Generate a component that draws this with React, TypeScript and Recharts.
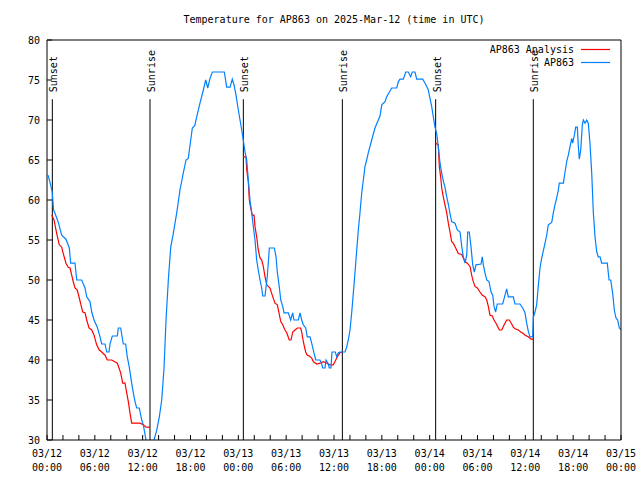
import { LineChart, Line, XAxis, YAxis, ReferenceLine, Legend } from 'recharts';

const FONT = '"DejaVu Sans Mono", "Liberation Mono", monospace';

// hours since 03/12 00:00 UTC
const stationTimes = [
  0.13, 0.38, 0.66, 0.82, 1.13, 1.42, 1.84, 2.38, 2.8, 2.97, 3.51, 3.73, 4.35, 4.77, 4.98, 5.39, 5.61, 5.9,
  6.31, 6.65, 6.86, 7.28, 7.49, 7.78, 7.9, 8.19, 8.82, 8.94, 9.24, 9.57, 9.87, 10.07, 10.32, 10.62, 10.83,
  11.04, 11.25, 11.58, 11.88, 12.08, 12.42, 12.92, 13.42, 13.76, 14.09, 14.39, 14.68, 14.93, 15.22, 15.52,
  15.84, 16.27, 16.68, 17.1, 17.44, 17.72, 18.03, 18.23, 18.53, 18.78, 19.19, 19.61, 19.91, 20.16, 20.45,
  20.74, 22.24, 22.54, 22.96, 23.24, 23.46, 23.71, 24.0, 24.21, 24.42, 24.62, 24.84, 25.05, 25.25, 25.46,
  25.68, 25.88, 26.09, 26.3, 26.5, 26.72, 26.93, 27.06, 27.35, 27.47, 27.63, 27.89, 28.51, 28.73, 28.89,
  29.14, 29.32, 29.57, 29.73, 30.27, 30.57, 30.82, 30.98, 31.52, 31.74, 31.95, 32.15, 32.45, 32.65, 32.99,
  33.2, 33.49, 33.71, 34.24, 34.46, 34.58, 34.87, 35.0, 35.29, 35.41, 35.62, 35.75, 36.16, 36.34, 36.54,
  36.75, 37.38, 37.59, 37.79, 38.01, 38.22, 38.42, 38.63, 38.85, 39.05, 39.26, 39.48, 39.68, 39.89, 40.1,
  40.3, 40.73, 41.14, 41.77, 41.99, 42.4, 42.61, 43.24, 43.87, 44.07, 44.28, 44.69, 45.0, 45.32, 45.62,
  45.82, 46.16, 46.37, 47.13, 47.42, 47.63, 47.83, 48.04, 48.25, 48.46, 48.67, 48.88, 49.08, 49.3, 49.51,
  49.71, 49.92, 50.14, 50.34, 50.55, 50.76, 51.18, 51.47, 51.81, 52.02, 52.22, 52.43, 52.65, 52.77, 52.97,
  53.18, 53.4, 53.6, 53.81, 54.44, 54.6, 54.73, 54.94, 55.16, 55.44, 55.7, 55.91, 56.07, 56.28, 56.48,
  57.16, 57.45, 57.66, 57.86, 58.49, 58.7, 59.33, 59.67, 59.96, 60.17, 60.37, 60.58, 60.92, 61.0, 61.21,
  61.42, 61.62, 61.84, 62.05, 62.25, 62.47, 62.68, 62.88, 63.31, 63.51, 63.72, 63.94, 64.14, 64.26, 64.77,
  64.98, 65.19, 65.39, 65.61, 65.82, 65.94, 66.15, 66.32, 66.52, 66.65, 66.77, 66.95, 67.15, 67.28, 67.49,
  67.7, 67.9, 68.11, 68.33, 68.53, 68.74, 68.96, 69.15, 69.37, 69.58, 70.28, 70.5, 70.71, 70.96, 71.16,
  71.37, 71.58, 71.79, 72.0,
];
const stationTemps = [
  63.1, 62.2, 61.0, 58.8, 58.0, 57.2, 55.6, 55.1, 54.0, 52.1, 52.1, 50.0, 50.0, 49.0, 47.9, 47.3, 46.0, 45.0,
  44.1, 42.9, 42.0, 42.0, 41.0, 41.0, 42.0, 43.0, 43.0, 44.0, 44.0, 42.0, 42.0, 40.4, 39.1, 37.1, 35.9,
  34.8, 34.0, 34.0, 32.5, 31.9, 30.0, 28.5, 30.0, 31.2, 32.9, 35.0, 39.0, 45.0, 50.0, 54.1,
  55.8, 58.4, 61.25, 63.4, 65.0, 65.2, 67.5, 69.0, 69.3, 70.4, 72.1, 73.75, 75.0, 74.0, 75.2,
  76.0, 76.0, 74.1, 74.1, 75.1, 74.4, 73.1, 71.25, 70.0, 68.75, 67.5, 66.0, 65.0, 62.5, 60.0,
  58.4, 56.7, 55.0, 52.5, 51.25, 50.0, 49.0, 48.0, 48.0, 49.1, 50.4, 54.0, 54.0, 52.9, 51.0,
  49.1, 47.5, 46.7, 45.9, 45.9, 45.0, 45.9, 45.0, 45.0, 45.9, 45.0, 44.4, 44.0, 42.9, 42.9,
  42.1, 40.9, 40.0, 40.0, 39.5, 39.0, 39.0, 40.0, 39.5, 39.0, 39.0, 41.0, 41.0, 40.4, 40.9,
  41.0, 41.0, 41.6, 42.5, 43.75, 45.9, 48.3, 50.9, 53.75, 56.25, 58.4, 60.9, 62.5, 64.2, 65.0,
  65.9, 67.5, 69.0, 70.5, 71.9, 72.3, 72.9, 74.0, 74.0, 74.8, 75.1, 75.1, 76.0, 76.0, 75.4,
  76.0, 76.0, 75.1, 75.1, 74.6, 74.2, 73.75, 72.7, 71.7, 70.4, 69.1, 68.3, 66.7, 64.6, 63.4,
  62.4, 61.6, 60.4, 59.5, 58.3, 57.3, 57.1, 56.25, 56.0, 54.2, 52.9, 52.1, 53.1, 56.0, 56.0,
  54.2, 51.9, 51.0, 51.9, 52.0, 52.9, 51.9, 50.9, 50.0, 49.8, 48.5, 48.1, 46.7, 46.0, 47.0,
  47.0, 48.1, 48.9, 47.9, 47.9, 47.0, 47.0, 46.5, 45.9, 44.6, 43.6, 42.9, 42.9, 45.3, 46.0,
  46.9, 49.2, 51.5, 52.75, 53.6, 54.6, 55.6, 56.9, 57.2, 58.4, 59.4, 60.3, 61.25, 62.1, 62.1,
  63.5, 64.8, 65.6, 66.7, 67.7, 67.1, 68.1, 69.1, 69.1, 66.7, 65.1, 66.25, 69.4, 70.0, 69.6,
  70.0, 69.6, 67.1, 63.3, 58.4, 55.4, 53.5, 52.9, 52.9, 52.1, 52.1, 50.0, 50.0, 48.3, 46.25,
  45.25, 45.0, 44.0, 43.8,
];

const night1Times = [
  0.59, 0.88, 1.22, 1.54, 1.84, 2.04, 2.38, 2.67, 2.89, 3.1, 3.3, 3.51, 3.8, 4.05, 4.26, 4.48, 4.77, 4.98,
  5.27, 5.61, 5.9, 6.23, 6.56, 6.86, 7.28, 7.56, 8.12, 8.82, 9.03, 9.24, 9.5, 9.78, 10.0, 10.2, 10.41,
  10.62, 11.67, 12.08, 12.42, 12.92,
];
const night1Temps = [
  58.1, 57.5, 55.8, 54.4, 54.1, 53.3, 52.1, 51.6, 51.5, 50.6, 49.75, 49.0, 48.75, 47.75, 46.9, 46.0, 45.9, 45.0,
  44.0, 43.75, 43.1, 41.9, 41.25, 41.0, 40.6, 40.0, 40.0, 39.6, 39.0, 38.4, 37.1, 37.1, 35.9, 34.8, 33.4,
  32.1, 32.1, 31.9, 31.6, 31.6,
];
const night2Times = [
  24.62, 24.96, 25.05, 25.25, 25.38, 25.55, 25.75, 25.97, 26.09, 26.3, 26.5, 26.72, 26.93, 27.13, 27.35,
  27.56, 27.76, 27.97, 28.19, 28.39, 28.6, 28.89, 29.1, 29.32, 29.57, 29.85, 30.07, 30.39, 30.61, 30.82,
  31.11, 31.4, 31.82, 31.95, 32.07, 32.24, 32.45, 32.65, 32.9, 33.2, 33.4, 33.83, 34.24, 34.66, 35.09,
  35.5, 35.91, 36.13, 36.34, 36.54, 36.75, 37.04,
];
const night2Temps = [
  65.4, 65.4, 63.8, 62.3, 60.0, 59.0, 58.1, 58.1, 56.7, 55.4, 53.75, 52.75, 52.5, 51.7, 50.4,
  49.4, 49.2, 49.0, 48.3, 47.7, 47.1, 46.9, 45.9, 44.8, 44.4, 43.75, 43.4, 42.5, 42.5, 43.5,
  43.75, 44.0, 44.0, 43.5, 42.75, 41.9, 41.0, 40.6, 40.5, 40.25, 39.8, 39.5, 39.6, 39.8, 39.6,
  39.4, 39.4, 39.8, 40.25, 40.6, 40.9, 41.0,
];
const night3Times = [
  48.76, 49.08, 49.21, 49.38, 49.51, 49.71, 49.92, 50.14, 50.34, 50.55, 50.76, 50.96, 51.39, 51.59, 52.02,
  52.43, 52.72, 53.06, 53.27, 53.47, 53.69, 53.98, 54.31, 54.6, 54.94, 55.16, 55.36, 55.57, 55.86, 56.07,
  56.32, 56.53, 56.74, 57.04, 57.24, 57.45, 57.66, 57.99, 58.29, 58.49, 58.7, 59.12, 59.42, 59.75, 59.96,
  60.37, 60.71, 61.0,
];
const night3Temps = [
  67.1, 66.9, 64.2, 62.9, 61.5, 60.4, 59.4, 58.4, 57.1, 56.0, 54.8, 54.6, 53.75, 53.3, 53.2,
  52.3, 52.1, 51.7, 50.6, 49.8, 49.2, 49.0, 48.5, 48.1, 47.9, 47.5, 46.7, 45.6, 45.5, 45.0,
  44.6, 44.2, 43.75, 43.75, 44.2, 44.6, 45.0, 45.0, 44.5, 44.1, 43.9, 43.75, 43.5, 43.3, 43.1,
  42.9, 42.6, 42.6,
];

const eventHours = [0.67, 12.92, 24.63, 37.05, 48.75, 61.0];
const eventLabels = ['Sunset', 'Sunrise', 'Sunset', 'Sunrise', 'Sunset', 'Sunrise'];

const xTickHours = [
  0, 2, 4, 6, 8, 10, 12, 14, 16, 18, 20, 22, 24, 26, 28, 30, 32, 34, 36, 38, 40, 42, 44, 46, 48, 50, 52, 54,
  56, 58, 60, 62, 64, 66, 68, 70, 72,
];
const xLabelHours = [0, 6, 12, 18, 24, 30, 36, 42, 48, 54, 60, 66, 72];
const xLabelDates = ['03/12', '03/12', '03/12', '03/12', '03/13', '03/13', '03/13', '03/13', '03/14', '03/14', '03/14', '03/14', '03/15'];
const xLabelTimes = ['00:00', '06:00', '12:00', '18:00', '00:00', '06:00', '12:00', '18:00', '00:00', '06:00', '12:00', '18:00', '00:00'];
const yTicks = [30, 35, 40, 45, 50, 55, 60, 65, 70, 75, 80];

const stationData = stationTimes.map((h, i) => ({ h, temp: stationTemps[i] }));
const toRows = (times: number[], temps: number[]) => times.map((h, i) => ({ h, temp: temps[i] }));
const analysisData = [
  ...toRows(night1Times, night1Temps),
  { h: 18, temp: null },
  ...toRows(night2Times, night2Temps),
  { h: 42, temp: null },
  ...toRows(night3Times, night3Temps),
];

const BottomTick = ({ x, y, payload }: any) => {
  const i = xLabelHours.indexOf(payload.value);
  return (
    <g>
      <line x1={x} x2={x} y1={y} y2={y - 5} stroke="#000" />
      {i >= 0 && (
        <text fontFamily={FONT} fontSize={10} fill="#000" textAnchor="middle">
          <tspan x={x} y={y + 17}>{xLabelDates[i]}</tspan>
          <tspan x={x} y={y + 30.5}>{xLabelTimes[i]}</tspan>
        </text>
      )}
    </g>
  );
};

const TopTick = ({ x, y }: any) => <line x1={x} x2={x} y1={y} y2={y + 5} stroke="#000" />;

const LeftTick = ({ x, y, payload }: any) => (
  <g>
    <line x1={x} x2={x + 5} y1={y} y2={y} stroke="#000" />
    <text x={x - 7} y={y + 4} textAnchor="end" fontFamily={FONT} fontSize={10} fill="#000">
      {payload.value}
    </text>
  </g>
);

const RightTick = ({ x, y }: any) => <line x1={x - 5} x2={x} y1={y} y2={y} stroke="#000" />;

const EventLabel = ({ viewBox, text }: any) => {
  const tx = viewBox.x + 5;
  const ty = viewBox.y - 7;
  return (
    <text x={tx} y={ty} transform={`rotate(-90, ${tx}, ${ty})`} fontFamily={FONT} fontSize={10} fill="#000">
      {text}
    </text>
  );
};

const KeyBox = () => (
  <svg width={150} height={30}>
    <text x={104} y={13} textAnchor="end" fontFamily={FONT} fontSize={10} fill="#000">AP863 Analysis</text>
    <line x1={111} x2={140} y1={9.5} y2={9.5} stroke="#ff0000" strokeWidth={1.2} />
    <text x={104} y={25.5} textAnchor="end" fontFamily={FONT} fontSize={10} fill="#000">AP863</text>
    <line x1={111} x2={140} y1={22.5} y2={22.5} stroke="#0080ff" strokeWidth={1.2} />
  </svg>
);

export default function App() {
  return (
    <div style={{ position: 'absolute', left: 0, top: 0, width: 640, height: 480, background: '#fff' }}>
      <LineChart width={640} height={480} margin={{ top: 0, right: 0, bottom: 0, left: 0 }}>
        <XAxis
          dataKey="h"
          type="number"
          domain={[0, 72]}
          ticks={xTickHours}
          interval={0}
          height={40}
          tickSize={0}
          tickMargin={0}
          tickLine={false}
          axisLine={{ stroke: '#000' }}
          tick={<BottomTick />}
        />
        <XAxis
          xAxisId="top"
          orientation="top"
          dataKey="h"
          type="number"
          domain={[0, 72]}
          ticks={xTickHours}
          interval={0}
          height={40}
          tickSize={0}
          tickMargin={0}
          tickLine={false}
          axisLine={{ stroke: '#000' }}
          tick={<TopTick />}
        />
        <YAxis
          type="number"
          domain={[30, 80]}
          ticks={yTicks}
          interval={0}
          allowDataOverflow
          width={47}
          tickSize={0}
          tickMargin={0}
          tickLine={false}
          axisLine={{ stroke: '#000' }}
          tick={<LeftTick />}
        />
        <YAxis
          yAxisId="right"
          orientation="right"
          type="number"
          domain={[30, 80]}
          ticks={yTicks}
          interval={0}
          width={19}
          tickSize={0}
          tickMargin={0}
          tickLine={false}
          axisLine={{ stroke: '#000' }}
          tick={<RightTick />}
        />
        {eventHours.map((h, i) => (
          <ReferenceLine
            key={i}
            segment={[{ x: h, y: 72.6 }, { x: h, y: 30 }]}
            stroke="#000"
            strokeWidth={1}
            label={(p: any) => <EventLabel viewBox={p.viewBox} text={eventLabels[i]} />}
          />
        ))}
        <Line
          data={analysisData}
          dataKey="temp"
          name="AP863 Analysis"
          type="linear"
          stroke="#ff0000"
          strokeWidth={1.2}
          dot={false}
          activeDot={false}
          connectNulls={false}
          isAnimationActive={false}
        />
        <Line
          data={stationData}
          dataKey="temp"
          name="AP863"
          type="linear"
          stroke="#0080ff"
          strokeWidth={1.2}
          dot={false}
          activeDot={false}
          isAnimationActive={false}
        />
        <Legend
          layout="horizontal"
          verticalAlign="middle"
          align="center"
          wrapperStyle={{ position: 'absolute', left: 470, top: 40, width: 150, height: 30 }}
          content={() => <KeyBox />}
        />
      </LineChart>
      <div
        style={{
          position: 'absolute',
          left: 47,
          top: 14,
          width: 574,
          textAlign: 'center',
          fontFamily: FONT,
          fontSize: 10,
          lineHeight: '12px',
          color: '#000',
        }}
      >
        Temperature for AP863 on 2025-Mar-12 (time in UTC)
      </div>
    </div>
  );
}
